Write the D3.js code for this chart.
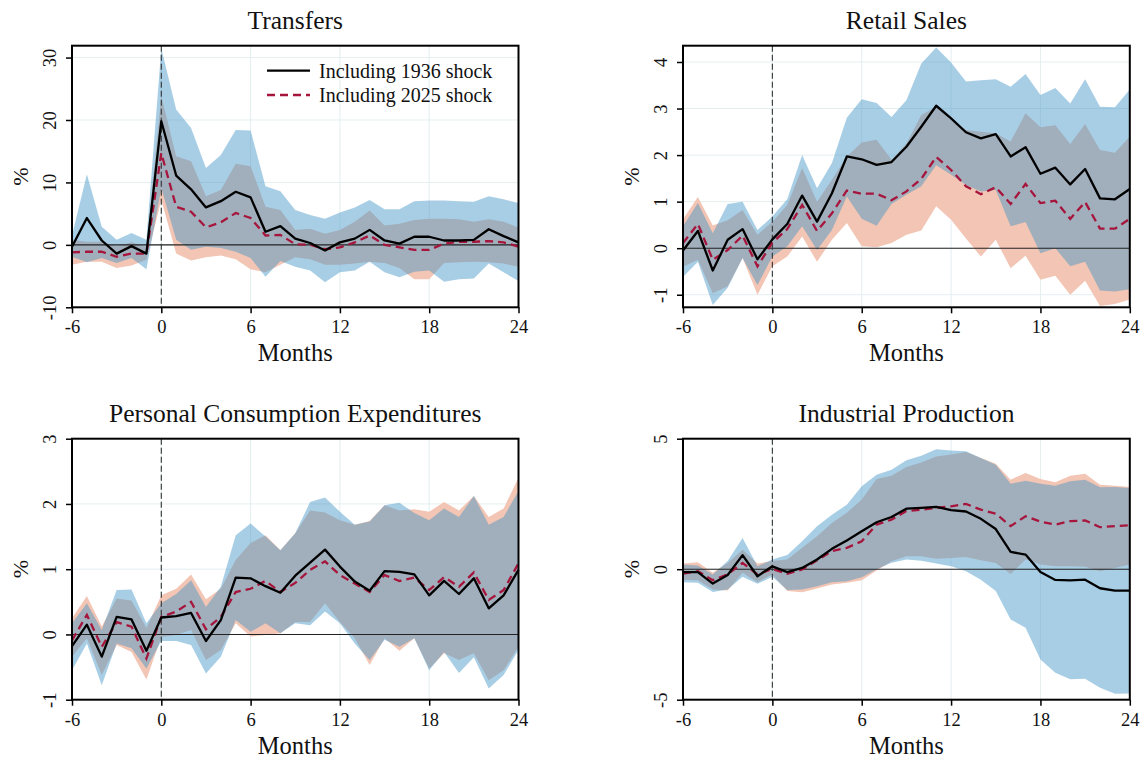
<!DOCTYPE html>
<html>
<head>
<meta charset="utf-8">
<script src="https://cdn.jsdelivr.net/npm/d3@7"></script>
<style>
  body { margin: 0; background: #fff; }
  svg { display: block; }
  text { font-family: "Liberation Serif", "Times New Roman", serif; fill: #111; }
</style>
</head>
<body>
<svg id="chart" width="1143" height="758"></svg>
<script>
// months relative to the shock
const months = [-6, -5, -4, -3, -2, -1, 0, 1, 2, 3, 4, 5, 6, 7, 8, 9, 10, 11, 12,
  13, 14, 15, 16, 17, 18, 19, 20, 21, 22, 23, 24];
const xTicks = [-6, 0, 6, 12, 18, 24];
const seriesNames = ['Including 1936 shock', 'Including 2025 shock'];

// Transfers
const tr36 = [-0.3, 4.3, 0.7, -1.4, -0.2, -1.4, 19.8, 11.1, 8.9, 6.0, 7.0, 8.5, 7.6, 2.1, 3.0,
  1.0, 0.3, -0.9, 0.4, 1.0, 2.4, 0.7, 0.2, 1.3, 1.3, 0.7, 0.7, 0.8, 2.5, 1.4, 0.4];
const tr36Hi = [1.5, 11.3, 2.9, 0.8, 1.9, 0.8, 31.5, 21.7, 18.7, 12.3, 14.4, 18.4, 18.3, 9.4, 8.6,
  5.6, 4.8, 4.2, 5.2, 6.0, 7.2, 5.7, 5.7, 7.0, 7.1, 7.1, 7.0, 6.9, 7.8, 7.3, 6.7];
const tr36Lo = [-1.9, -2.8, -2.1, -2.9, -2.1, -3.9, 9.1, 0.8, -0.8, -0.3, -0.5, -1.1, -2.1, -5.1, -2.6,
  -3.5, -4.1, -6.0, -4.4, -4.1, -2.7, -4.4, -5.2, -4.3, -4.1, -5.9, -5.5, -5.4, -3.0, -4.4, -5.8];
const tr25 = [-1.2, -1.1, -1.1, -1.9, -1.4, -1.4, 14.7, 6.1, 5.3, 2.8, 3.6, 5.1, 4.3, 1.5, 1.6,
  0.1, 0.0, -0.7, -0.4, 0.4, 1.5, 0.0, -0.4, -0.8, -0.8, 0.2, 0.5, 0.5, 0.6, 0.4, -0.3];
const tr25Hi = [0.8, 0.5, 0.5, -0.2, 0.4, -0.3, 23.8, 14.2, 13.4, 7.8, 8.8, 13.0, 12.6, 6.1, 5.6,
  2.4, 2.6, 1.8, 2.4, 3.7, 5.5, 3.1, 3.4, 4.0, 4.2, 4.2, 4.1, 3.7, 4.1, 3.7, 2.8];
const tr25Lo = [-3.2, -2.7, -2.7, -3.7, -3.3, -2.4, 7.2, -1.4, -2.5, -2.0, -1.7, -2.3, -3.9, -4.4, -3.2,
  -2.0, -2.3, -3.2, -3.2, -3.0, -2.7, -2.9, -3.7, -5.5, -5.5, -2.9, -2.8, -2.7, -2.8, -3.0, -3.5];

// Retail Sales
const rs36 = [-0.05, 0.37, -0.48, 0.18, 0.41, -0.24, 0.19, 0.52, 1.13, 0.57, 1.18, 1.97, 1.91, 1.79, 1.85,
  2.18, 2.61, 3.06, 2.79, 2.49, 2.36, 2.45, 1.97, 2.17, 1.60, 1.73, 1.37, 1.70, 1.07, 1.05, 1.27];
const rs36Hi = [0.47, 0.97, 0.32, 0.95, 1.0, 0.39, 0.68, 1.05, 2.0, 1.29, 1.83, 2.8, 3.2, 3.12, 2.82,
  3.18, 3.97, 4.31, 3.99, 3.58, 3.61, 3.63, 3.47, 3.74, 3.29, 3.44, 3.11, 3.63, 3.04, 3.03, 3.41];
const rs36Lo = [-0.62, -0.29, -1.22, -0.85, -0.21, -0.79, -0.18, 0.04, 0.47, -0.04, 0.39, 1.11, 0.63, 0.48, 0.95,
  1.15, 1.33, 1.78, 1.58, 1.36, 1.22, 1.25, 0.47, 0.56, -0.11, 0.0, -0.39, -0.29, -0.91, -0.93, -0.88];
const rs25 = [0.11, 0.52, -0.25, -0.04, 0.27, -0.39, 0.12, 0.41, 0.93, 0.37, 0.75, 1.24, 1.17, 1.17, 1.03,
  1.22, 1.49, 1.96, 1.68, 1.33, 1.16, 1.31, 0.95, 1.38, 0.97, 1.02, 0.63, 0.99, 0.42, 0.42, 0.63];
const rs25Hi = [0.62, 1.10, 0.49, 0.6, 0.82, 0.29, 0.57, 0.93, 1.72, 1.0, 1.47, 1.97, 2.27, 2.33, 1.9,
  2.25, 2.86, 3.04, 2.75, 2.54, 2.5, 2.47, 2.29, 2.9, 2.6, 2.64, 2.24, 2.67, 2.11, 2.05, 2.4];
const rs25Lo = [-0.4, -0.25, -0.97, -0.82, -0.21, -1.0, -0.39, -0.18, 0.25, -0.29, 0.18, 0.54, 0.04, 0.02, 0.11,
  0.29, 0.38, 0.9, 0.61, 0.21, -0.18, 0.18, -0.43, -0.16, -0.68, -0.59, -1.0, -0.7, -1.24, -1.2, -1.1];

// Personal Consumption Expenditures
const pc36 = [-0.18, 0.15, -0.34, 0.27, 0.23, -0.25, 0.26, 0.28, 0.33, -0.1, 0.22, 0.87, 0.86, 0.74, 0.64,
  0.9, 1.1, 1.3, 1.04, 0.81, 0.67, 0.97, 0.96, 0.92, 0.6, 0.82, 0.62, 0.86, 0.4, 0.6, 0.99];
const pc36Hi = [0.17, 0.48, 0.07, 0.68, 0.69, 0.17, 0.48, 0.62, 0.83, 0.42, 0.73, 1.52, 1.7, 1.5, 1.29,
  1.55, 2.03, 2.1, 1.88, 1.68, 1.73, 1.98, 2.02, 1.86, 1.75, 1.93, 1.8, 2.12, 1.68, 1.8, 2.2];
const pc36Lo = [-0.55, -0.14, -0.78, -0.14, -0.21, -0.52, -0.1, -0.1, -0.16, -0.6, -0.34, 0.22, 0.04, 0.17, 0.02,
  0.17, 0.14, 0.35, 0.17, -0.14, -0.39, -0.08, -0.19, -0.06, -0.55, -0.27, -0.59, -0.35, -0.83, -0.62, -0.24];
const pc25 = [-0.09, 0.3, -0.19, 0.19, 0.12, -0.37, 0.27, 0.35, 0.5, 0.08, 0.27, 0.65, 0.7, 0.82, 0.65,
  0.79, 0.99, 1.12, 0.91, 0.78, 0.65, 0.91, 0.82, 0.87, 0.68, 0.88, 0.73, 0.95, 0.53, 0.68, 1.09];
const pc25Hi = [0.25, 0.59, 0.12, 0.55, 0.52, 0.1, 0.6, 0.7, 0.92, 0.54, 0.7, 1.14, 1.4, 1.52, 1.29,
  1.55, 1.9, 1.87, 1.75, 1.68, 1.74, 1.98, 1.9, 1.92, 1.88, 2.03, 1.9, 2.12, 1.8, 1.93, 2.4];
const pc25Lo = [-0.34, -0.06, -0.62, -0.16, -0.27, -0.69, -0.04, -0.01, 0.07, -0.39, -0.24, 0.17, -0.03, -0.01, 0.02,
  0.19, 0.19, 0.48, 0.19, -0.06, -0.47, -0.06, -0.25, -0.06, -0.52, -0.29, -0.39, -0.29, -0.7, -0.55, -0.19];

// Industrial Production
const ip36 = [-0.11, -0.11, -0.55, -0.22, 0.54, -0.27, 0.11, -0.11, 0.05, 0.37, 0.78, 1.1, 1.45, 1.8, 2.0,
  2.32, 2.35, 2.39, 2.26, 2.21, 1.93, 1.54, 0.66, 0.56, -0.11, -0.41, -0.43, -0.4, -0.73, -0.82, -0.82];
const ip36Hi = [0.18, 0.14, -0.2, 0.31, 1.2, 0.11, 0.37, 0.54, 1.07, 1.65, 2.09, 2.47, 3.18, 3.62, 3.81,
  4.17, 4.35, 4.6, 4.55, 4.52, 4.26, 4.0, 3.27, 3.39, 3.27, 3.2, 3.37, 3.43, 3.14, 3.15, 3.11];
const ip36Lo = [-0.5, -0.52, -0.87, -0.78, -0.29, -0.56, -0.29, -0.8, -0.78, -0.65, -0.5, -0.46, -0.31, 0.0, 0.25,
  0.37, 0.32, 0.22, 0.11, -0.08, -0.4, -0.84, -1.93, -2.24, -3.46, -3.97, -4.22, -4.2, -4.54, -4.77, -4.76];
const ip25 = [-0.17, -0.08, -0.42, -0.2, 0.24, -0.2, 0.01, -0.18, -0.01, 0.34, 0.69, 0.82, 1.07, 1.71, 1.9,
  2.23, 2.28, 2.35, 2.41, 2.5, 2.28, 2.13, 1.65, 2.03, 1.82, 1.71, 1.84, 1.87, 1.61, 1.65, 1.68];
const ip25Hi = [0.22, 0.27, -0.14, 0.24, 0.75, 0.22, 0.31, 0.37, 0.82, 1.26, 1.77, 2.16, 2.67, 3.46, 3.58,
  3.92, 4.09, 4.32, 4.39, 4.49, 4.26, 4.04, 3.43, 3.69, 3.46, 3.33, 3.58, 3.66, 3.24, 3.2, 3.15];
const ip25Lo = [-0.4, -0.42, -0.78, -0.82, -0.14, -0.5, -0.2, -0.84, -0.88, -0.74, -0.59, -0.52, -0.42, -0.05, 0.3,
  0.5, 0.5, 0.4, 0.43, 0.47, 0.34, 0.24, -0.18, 0.37, 0.18, 0.11, 0.11, 0.09, -0.08, 0.05, 0.18];

const panels = [
  { title: 'Transfers', yDomain: [-10, 31.9], yTicks: [-10, 0, 10, 20, 30],
    s36: tr36, hi36: tr36Hi, lo36: tr36Lo, s25: tr25, hi25: tr25Hi, lo25: tr25Lo,
    box: [72, 45.7, 518.5, 307.3], legend: true },
  { title: 'Retail Sales', yDomain: [-1.27, 4.35], yTicks: [-1, 0, 1, 2, 3, 4],
    s36: rs36, hi36: rs36Hi, lo36: rs36Lo, s25: rs25, hi25: rs25Hi, lo25: rs25Lo,
    box: [683, 45.7, 1129.8, 307.3] },
  { title: 'Personal Consumption Expenditures', yDomain: [-1, 3], yTicks: [-1, 0, 1, 2, 3],
    s36: pc36, hi36: pc36Hi, lo36: pc36Lo, s25: pc25, hi25: pc25Hi, lo25: pc25Lo,
    box: [72, 438.7, 518.5, 699.7] },
  { title: 'Industrial Production', yDomain: [-5, 5], yTicks: [-5, 0, 5],
    s36: ip36, hi36: ip36Hi, lo36: ip36Lo, s25: ip25, hi25: ip25Hi, lo25: ip25Lo,
    box: [683, 438.7, 1129.8, 699.7] }
];

const svg = d3.select('#chart');

panels.forEach(p => {
  const [x0, y0, x1, y1] = p.box;
  const x = d3.scaleLinear().domain([-6, 24]).range([x0, x1]);
  const y = d3.scaleLinear().domain(p.yDomain).range([y1, y0]);
  const g = svg.append('g');

  // faint grid
  g.selectAll('.gx').data(xTicks).join('line')
    .attr('x1', d => x(d)).attr('x2', d => x(d))
    .attr('y1', y0).attr('y2', y1)
    .style('stroke', '#e4eeef').style('stroke-width', 1);
  g.selectAll('.gy').data(p.yTicks).join('line')
    .attr('x1', x0).attr('x2', x1)
    .attr('y1', d => y(d)).attr('y2', d => y(d))
    .style('stroke', '#e4eeef').style('stroke-width', 1);

  const band = (lo, hi) => d3.area()
    .x((d, i) => x(months[i]))
    .y0((d, i) => y(lo[i]))
    .y1((d, i) => y(hi[i]));

  g.append('path').datum(months)
    .attr('d', band(p.lo25, p.hi25))
    .style('fill', 'rgb(242,197,180)');
  g.append('path').datum(months)
    .attr('d', band(p.lo36, p.hi36))
    .style('fill', 'rgb(66,148,198)')
    .style('fill-opacity', 0.46);

  // zero line and shock date
  g.append('line')
    .attr('x1', x0).attr('x2', x1).attr('y1', y(0)).attr('y2', y(0))
    .style('stroke', '#222').style('stroke-width', 1.1);
  g.append('line')
    .attr('x1', x(0)).attr('x2', x(0)).attr('y1', y0).attr('y2', y1)
    .style('stroke', '#333').style('stroke-width', 1.1)
    .style('stroke-dasharray', '6,3');

  const line = s => d3.line()
    .x((d, i) => x(months[i]))
    .y((d, i) => y(s[i]));

  g.append('path').datum(months)
    .attr('d', line(p.s25))
    .style('fill', 'none').style('stroke', '#a6163c')
    .style('stroke-width', 2.3).style('stroke-dasharray', '8,5');
  g.append('path').datum(months)
    .attr('d', line(p.s36))
    .style('fill', 'none').style('stroke', '#000')
    .style('stroke-width', 2.3).style('stroke-linejoin', 'round');

  // axes
  const xAxis = g.append('g')
    .attr('transform', `translate(0,${y1})`)
    .call(d3.axisBottom(x).tickValues(xTicks).tickSize(6).tickPadding(7).tickFormat(d => String(d)));
  const yAxis = g.append('g')
    .attr('transform', `translate(${x0},0)`)
    .call(d3.axisLeft(y).tickValues(p.yTicks).tickSize(6).tickFormat(d => String(d)));
  [xAxis, yAxis].forEach(a => {
    a.select('.domain').remove();
    a.selectAll('.tick line').style('stroke', '#000').style('stroke-width', 1.5);
    a.selectAll('text').style('font-size', '18.5px').style('fill', '#111')
      .style('font-family', '"Liberation Serif", serif');
  });
  yAxis.selectAll('text')
    .attr('transform', 'rotate(-90)')
    .attr('x', 0).attr('y', -16).attr('dy', 0)
    .attr('text-anchor', 'middle');

  // frame
  g.append('rect')
    .attr('x', x0).attr('y', y0).attr('width', x1 - x0).attr('height', y1 - y0)
    .style('fill', 'none').style('stroke', '#000').style('stroke-width', 2);

  // labels
  g.append('text')
    .attr('x', (x0 + x1) / 2).attr('y', y0 - 17)
    .attr('text-anchor', 'middle')
    .style('font-size', '25.5px')
    .text(p.title);
  g.append('text')
    .attr('x', (x0 + x1) / 2).attr('y', y1 + 54)
    .attr('text-anchor', 'middle')
    .style('font-size', '24.5px')
    .text('Months');
  g.append('text')
    .attr('transform', `translate(${x0 - 44},${(y0 + y1) / 2}) rotate(-90)`)
    .attr('text-anchor', 'middle')
    .style('font-size', '22px')
    .text('%');

  if (p.legend) {
    const lg = g.append('g');
    const rows = [
      { name: seriesNames[0], color: '#000', dash: null },
      { name: seriesNames[1], color: '#a6163c', dash: '8,5' }
    ];
    rows.forEach((r, i) => {
      const ly = 70.7 + i * 24.3;
      lg.append('line')
        .attr('x1', 267).attr('x2', 310).attr('y1', ly).attr('y2', ly)
        .style('stroke', r.color).style('stroke-width', 2.3)
        .style('stroke-dasharray', r.dash);
      lg.append('text')
        .attr('x', 319).attr('y', ly + 6.8)
        .style('font-size', '20px')
        .text(r.name);
    });
  }
});
</script>
</body>
</html>
